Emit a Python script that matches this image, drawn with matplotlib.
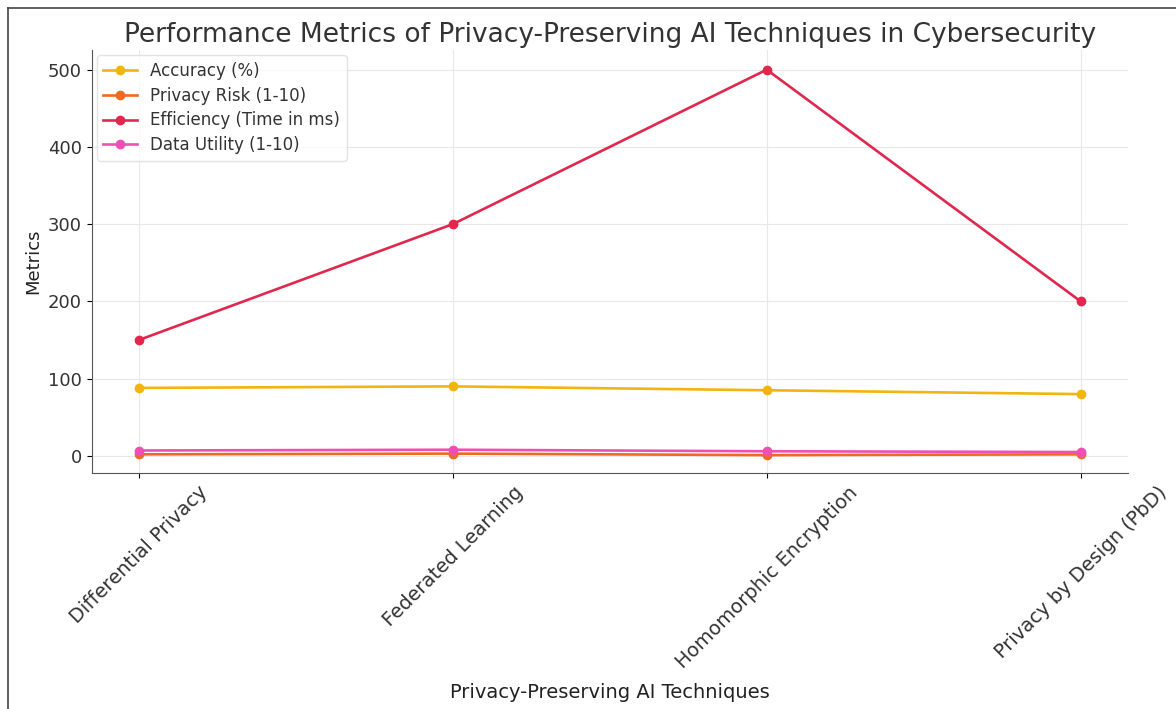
import numpy as np
import matplotlib.pyplot as plt
from matplotlib.lines import Line2D

# Data
techniques = ['Differential Privacy', 'Federated Learning',
              'Homomorphic Encryption', 'Privacy by Design (PbD)']
accuracy = [88, 90, 85, 80]
privacy_risk = [2, 3, 1, 2]
efficiency = [150, 300, 500, 200]
data_utility = [7, 8, 6, 5]

series = [
    ('Accuracy (%)', accuracy, '#f2b40f'),
    ('Privacy Risk (1-10)', privacy_risk, '#ee6a22'),
    ('Efficiency (Time in ms)', efficiency, '#e0284f'),
    ('Data Utility (1-10)', data_utility, '#ee4fb4'),
]

fig = plt.figure(figsize=(11.76, 7.09), dpi=100)
ax = fig.add_axes([0.078, 0.333, 0.881, 0.596])

x = np.arange(len(techniques))
for label, vals, col in series:
    ax.plot(x, vals, marker='o', color=col, label=label, linewidth=1.9, markersize=6)

ax.set_xticks(x)
ax.set_xticklabels(techniques, rotation=45, fontsize=14, color='#333333')
ax.tick_params(axis='y', labelsize=13, labelcolor='#333333')
ax.set_yticks([0, 100, 200, 300, 400, 500])
ax.set_xlim(-0.15, 3.15)
ax.set_ylim(-22, 525)
ax.grid(True, color='#e8e8e8', linewidth=0.8)
ax.set_axisbelow(True)
for s in ['top', 'right']:
    ax.spines[s].set_visible(False)
for s in ['left', 'bottom']:
    ax.spines[s].set_color('#555555')

ax.set_title('Performance Metrics of Privacy-Preserving AI Techniques in Cybersecurity',
             fontsize=19, color='#333333', pad=6)
ax.set_xlabel('Privacy-Preserving AI Techniques', fontsize=14, color='#222222',
              labelpad=8)
ax.set_ylabel('Metrics', fontsize=13, color='#222222')
ax.legend(loc='upper left', fontsize=12, frameon=True, edgecolor='#dddddd',
          labelcolor='#333333', labelspacing=0.4, borderaxespad=0.3)

# outer frame (left and top edges)
fig.add_artist(Line2D([8 / 1176, 8 / 1176], [0, 1 - 8 / 709], transform=fig.transFigure,
                      color='#444444', linewidth=1.2))
fig.add_artist(Line2D([8 / 1176, 1], [1 - 8 / 709, 1 - 8 / 709], transform=fig.transFigure,
                      color='#444444', linewidth=1.2))

fig.savefig('out.png', dpi=100)
